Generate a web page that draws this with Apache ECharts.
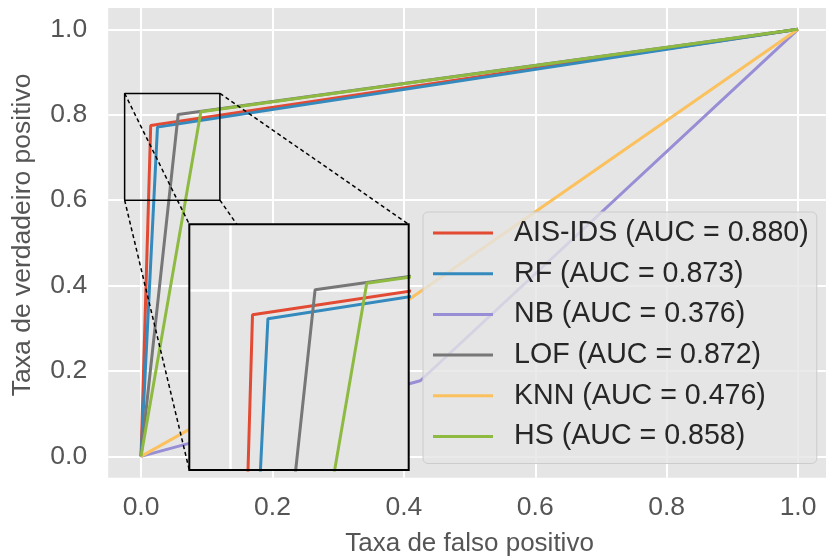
<!DOCTYPE html>
<html>
<head>
<meta charset="utf-8">
<script src="https://cdn.jsdelivr.net/npm/echarts@6/dist/echarts.min.js"></script>
<style>
  html, body { margin: 0; padding: 0; background: #ffffff; }
  #chart { width: 826px; height: 559px; }
</style>
</head>
<body>
<div id="chart"></div>
<script>
// ROC curves of the detectors, one operating point each plus the (0,0) and (1,1) ends
const modelNames = ['AIS-IDS', 'RF', 'NB', 'LOF', 'KNN', 'HS'];
const aucScores = [0.880, 0.873, 0.376, 0.872, 0.476, 0.858];
const fprValues = [
  [0, 0.0147, 1],
  [0, 0.025, 1],
  [0, 0.425, 1],
  [0, 0.0565, 1],
  [0, 0.33, 1],
  [0, 0.091, 1]
];
const tprValues = [
  [0, 0.775, 1],
  [0, 0.771, 1],
  [0, 0.177, 1],
  [0, 0.8005, 1],
  [0, 0.284, 1],
  [0, 0.807, 1]
];
const lineColors = ['#E24A33', '#348ABD', '#988ED5', '#777777', '#FBC15E', '#8EBA42'];

// axis ticks of the main panel
const axisTickValues = [0, 0.2, 0.4, 0.6, 0.8, 1.0];
const mainRange = [-0.05, 1.05];

// region marked on the main panel and the window shown in the magnified panel
const zoomBoxX = [-0.025, 0.12];
const zoomBoxY = [0.6, 0.85];
const insetRangeX = [-0.0275, 0.119];
const insetRangeY = [0.617, 0.867];
const insetGridX = [0];
const insetGridY = [0.8];

const BG = '#E5E5E5';
const FONT = '"Liberation Sans", Arial, Helvetica, sans-serif';

const chart = echarts.init(document.getElementById('chart'), null, { renderer: 'canvas' });

const curve = i => fprValues[i].map((x, k) => [x, tprValues[i][k]]);

const mainSeries = modelNames.map((name, i) => ({
  type: 'line',
  name: name,
  xAxisIndex: 0,
  yAxisIndex: 0,
  data: curve(i),
  symbol: 'none',
  z: 2,
  lineStyle: { color: lineColors[i], width: 3 },
  itemStyle: { color: lineColors[i] }
}));

const insetSeries = modelNames.map((name, i) => ({
  type: 'line',
  name: name,
  xAxisIndex: 1,
  yAxisIndex: 1,
  data: curve(i),
  symbol: 'none',
  clip: true,
  z: 7,
  lineStyle: { color: lineColors[i], width: 3 },
  itemStyle: { color: lineColors[i] }
}));

const boxSeries = {
  type: 'line',
  name: 'zoom-box',
  xAxisIndex: 0,
  yAxisIndex: 0,
  data: [
    [zoomBoxX[0], zoomBoxY[0]], [zoomBoxX[1], zoomBoxY[0]],
    [zoomBoxX[1], zoomBoxY[1]], [zoomBoxX[0], zoomBoxY[1]],
    [zoomBoxX[0], zoomBoxY[0]]
  ],
  symbol: 'none',
  silent: true,
  z: 3,
  lineStyle: { color: '#000000', width: 1.5 }
};

const tickLabel = v => v.toFixed(1);

chart.setOption({
  animation: false,
  grid: [
    { left: 108.2, top: 8, width: 722.7, height: 469.7, show: true, backgroundColor: BG, borderWidth: 0, outerBoundsMode: 'none' },
    { left: 189.3, top: 224.3, width: 219.4, height: 245.7, show: false, outerBoundsMode: 'none' }
  ],
  xAxis: [
    {
      type: 'value', gridIndex: 0, min: mainRange[0], max: mainRange[1],
      name: 'Taxa de falso positivo', nameLocation: 'middle', nameGap: 53,
      nameTextStyle: { color: '#555555', fontSize: 26, fontFamily: FONT },
      axisLine: { show: false },
      axisTick: { show: false, customValues: axisTickValues },
      axisLabel: { customValues: axisTickValues, formatter: tickLabel, color: '#555555', fontSize: 26.5, fontFamily: FONT, margin: 16 },
      splitLine: { show: true, lineStyle: { color: '#FFFFFF', width: 2 } }
    },
    {
      type: 'value', gridIndex: 1, min: insetRangeX[0], max: insetRangeX[1], z: 6,
      axisLine: { show: false },
      axisTick: { show: false, customValues: insetGridX },
      axisLabel: { show: false, customValues: insetGridX },
      splitLine: { show: true, lineStyle: { color: '#FFFFFF', width: 2.5 } }
    }
  ],
  yAxis: [
    {
      type: 'value', gridIndex: 0, min: mainRange[0], max: mainRange[1],
      name: 'Taxa de verdadeiro positivo', nameLocation: 'middle', nameGap: 72, nameRotate: 90,
      nameTextStyle: { color: '#555555', fontSize: 26.5, fontFamily: FONT, padding: [0, 0, 0, 16] },
      axisLine: { show: false },
      axisTick: { show: false, customValues: axisTickValues },
      axisLabel: { customValues: axisTickValues, formatter: tickLabel, color: '#555555', fontSize: 26.5, fontFamily: FONT, margin: 21 },
      splitLine: { show: true, lineStyle: { color: '#FFFFFF', width: 2 } }
    },
    {
      type: 'value', gridIndex: 1, min: insetRangeY[0], max: insetRangeY[1], z: 6,
      axisLine: { show: false },
      axisTick: { show: false, customValues: insetGridY },
      axisLabel: { show: false, customValues: insetGridY },
      splitLine: { show: true, lineStyle: { color: '#FFFFFF', width: 2.5 } }
    }
  ],
  legend: {
    data: modelNames.map(n => ({ name: n, icon: 'rect' })),
    orient: 'vertical',
    left: 423,
    top: 212,
    z: 10,
    itemWidth: 60,
    itemHeight: 3,
    itemGap: 10.7,
    padding: [6, 8, 12, 10],
    backgroundColor: 'rgba(229,229,229,0.8)',
    borderColor: '#CCCCCC',
    borderWidth: 1,
    borderRadius: 5,
    selectedMode: false,
    formatter: name => `${name} (AUC = ${aucScores[modelNames.indexOf(name)].toFixed(3)})`,
    textStyle: { color: '#262626', fontSize: 28.6, fontFamily: FONT, lineHeight: 30, padding: [0, 0, 0, 16] }
  },
  series: [...mainSeries, boxSeries, ...insetSeries]
});

// magnified panel frame and dashed connectors, placed through both coordinate systems
const px = (gi, pt) => chart.convertToPixel({ gridIndex: gi }, pt);
const boxCorners = [
  px(0, [zoomBoxX[0], zoomBoxY[1]]), px(0, [zoomBoxX[1], zoomBoxY[1]]),
  px(0, [zoomBoxX[0], zoomBoxY[0]]), px(0, [zoomBoxX[1], zoomBoxY[0]])
];
const insetCorners = [
  px(1, [insetRangeX[0], insetRangeY[1]]), px(1, [insetRangeX[1], insetRangeY[1]]),
  px(1, [insetRangeX[0], insetRangeY[0]]), px(1, [insetRangeX[1], insetRangeY[0]])
];
const insetRect = {
  x: insetCorners[0][0], y: insetCorners[0][1],
  width: insetCorners[1][0] - insetCorners[0][0],
  height: insetCorners[2][1] - insetCorners[0][1]
};

const connectors = boxCorners.map((b, k) => ({
  type: 'line', z: 4, silent: true,
  shape: { x1: b[0], y1: b[1], x2: insetCorners[k][0], y2: insetCorners[k][1] },
  style: { stroke: '#000000', lineWidth: 1.5, lineDash: [4, 3] }
}));

chart.setOption({
  graphic: [
    ...connectors,
    { type: 'rect', z: 5, silent: true, shape: insetRect, style: { fill: BG } },
    { type: 'rect', z: 8, silent: true, shape: insetRect, style: { fill: null, stroke: '#000000', lineWidth: 2 } }
  ]
});
</script>
</body>
</html>
